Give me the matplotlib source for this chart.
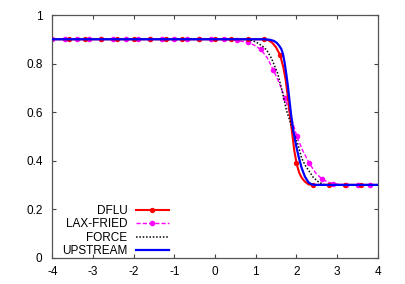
import matplotlib
matplotlib.use("Agg")
import matplotlib.pyplot as plt
from matplotlib.lines import Line2D

plt.rcParams['font.family'] = ['Liberation Sans', 'DejaVu Sans']

# UPSTREAM (blue)
up_x = [-4, 1.2, 1.35, 1.45, 1.52, 1.58, 1.63, 1.67, 1.71, 1.75, 1.79, 1.83, 1.87, 1.93, 1.985, 2.05, 2.13, 2.21, 2.3, 2.38, 2.45, 4]
up_y = [0.9, 0.9, 0.898, 0.893, 0.885, 0.873, 0.86, 0.84, 0.805, 0.76, 0.71, 0.65, 0.59, 0.52, 0.47, 0.42, 0.37, 0.334, 0.31, 0.302, 0.3, 0.3]

# DFLU (red)
df_x = [-4, 1.2, 1.3, 1.4, 1.5, 1.6, 1.68, 1.74, 1.8, 1.84, 1.9, 1.95, 2.01, 2.07, 2.13, 2.2, 2.3, 2.4, 4]
df_y = [0.9, 0.9, 0.897, 0.887, 0.867, 0.835, 0.785, 0.73, 0.65, 0.59, 0.51, 0.44, 0.385, 0.35, 0.33, 0.315, 0.302, 0.3, 0.3]
df_mx = [-3.6, -3.2, -2.8, -2.4, -2.0, -1.6, -1.2, -0.8, -0.4, 0.0, 0.4, 0.8, 1.2, 1.6, 2.0, 2.4, 2.8, 3.2, 3.6]
df_my = [0.9, 0.9, 0.9, 0.9, 0.9, 0.9, 0.9, 0.9, 0.9, 0.9, 0.9, 0.9, 0.9, 0.835, 0.39, 0.3, 0.3, 0.3, 0.3]

# FORCE (black dotted)
fo_x = [-4, 0.8, 0.95, 1.065, 1.17, 1.27, 1.39, 1.54, 1.655, 1.76, 1.87, 1.97, 2.05, 2.13, 2.22, 2.3, 2.42, 2.54, 2.66, 2.8, 4]
fo_y = [0.9, 0.9, 0.893, 0.883, 0.871, 0.856, 0.821, 0.76, 0.684, 0.605, 0.55, 0.5, 0.46, 0.41, 0.38, 0.36, 0.33, 0.313, 0.302, 0.3, 0.3]

# LAX-FRIED (magenta)
lf_x = [-4, 0.22, 0.53, 0.81, 0.96, 1.12, 1.28, 1.43, 1.58, 1.72, 1.87, 2.01, 2.16, 2.32, 2.47, 2.63, 2.77, 2.91, 3.21, 4]
lf_y = [0.9, 0.9, 0.896, 0.887, 0.876, 0.859, 0.825, 0.775, 0.72, 0.657, 0.58, 0.501, 0.44, 0.389, 0.35, 0.324, 0.312, 0.305, 0.3, 0.3]
lf_mx = [-4.0, -3.7, -3.4, -3.1, -2.8, -2.5, -2.2, -1.9, -1.6, -1.3, -1.0, -0.7, -0.4, -0.1, 0.22, 0.53, 0.81, 1.12, 1.43, 1.72, 2.01, 2.32, 2.63, 2.91, 3.21, 3.51, 3.81]
lf_my = [0.9] * 14 + [0.9, 0.896, 0.887, 0.859, 0.775, 0.657, 0.501, 0.389, 0.324, 0.305, 0.3, 0.3, 0.3]

labels = ["DFLU", "LAX-FRIED", "FORCE", "UPSTREAM"]
x_ticks = [-4, -3, -2, -1, 0, 1, 2, 3, 4]
y_ticks = [0, 0.2, 0.4, 0.6, 0.8, 1]
y_ticklabels = ["0", "0.2", "0.4", "0.6", "0.8", "1"]

fig = plt.figure(figsize=(4.05, 2.84), dpi=100)
ax = fig.add_axes([52.3 / 405, 1 - 257.7 / 284, 325.4 / 405, 242.7 / 284])

red_style = dict(color='#ff0000', lw=1.5)
mag_style = dict(color='#ff00ff', lw=1.0, ls=(0, (3, 1.5)))
blk_style = dict(color='black', lw=1.1, ls=(0, (1, 1.2)))
blu_style = dict(color='#0000ff', lw=1.6)

ax.plot(df_x, df_y, zorder=3, **red_style)
ax.plot(df_mx, df_my, ls='none', marker='o', ms=2.8, color='#ff0000', zorder=3)
ax.plot(lf_x, lf_y, zorder=2, **mag_style)
ax.plot(lf_mx, lf_my, ls='none', marker='o', ms=3.0, color='#ff00ff', zorder=2)
ax.plot(fo_x, fo_y, zorder=4, **blk_style)
ax.plot(up_x, up_y, zorder=5, **blu_style)

handles = [
    Line2D([], [], marker='o', ms=2.8, **red_style),
    Line2D([], [], marker='o', ms=3.0, **mag_style),
    Line2D([], [], **blk_style),
    Line2D([], [], **blu_style),
]
leg = ax.legend(handles, labels, loc='lower left', bbox_to_anchor=(0.015, -0.016),
                frameon=False, markerfirst=False, fontsize=8.5, handlelength=2.8,
                handletextpad=0.7, labelspacing=0.1, borderaxespad=0.2, borderpad=0.2,
                numpoints=1)

ax.set_xlim(-4, 4)
ax.set_ylim(0, 1)
ax.set_xticks(x_ticks)
ax.set_xticklabels([str(t) for t in x_ticks])
ax.set_yticks(y_ticks)
ax.set_yticklabels(y_ticklabels)
ax.tick_params(direction='in', length=3, width=0.8, top=True, right=True,
               labelsize=8.5, color='#444444', pad=6)
ax.tick_params(axis='y', pad=7)
for s in ax.spines.values():
    s.set_color('#555555')
    s.set_linewidth(0.9)

fig.savefig('out.png', dpi=100)
